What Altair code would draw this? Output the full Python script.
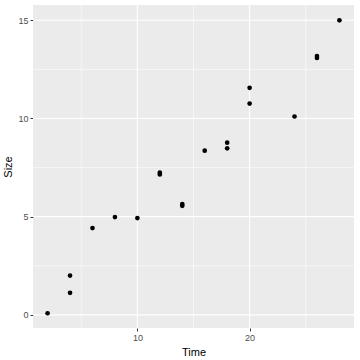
import altair as alt
import pandas as pd

time = [2, 4, 4, 6, 8, 10, 12, 12, 14, 14, 16, 18, 18, 20, 20, 24, 26, 26, 28]
size = [0.08, 1.12, 2.0, 4.42, 4.98, 4.93, 7.24, 7.15, 5.64, 5.55, 8.36, 8.77, 8.48,
        11.56, 10.76, 10.1, 13.18, 13.08, 15.0]

x_major = [10, 20]
y_major = [0, 5, 10, 15]
x_minor = [5, 15, 25]
y_minor = [2.5, 7.5, 12.5]

df = pd.DataFrame({"Time": time, "Size": size})

xdom = [0.7, 29.3]
ydom = [-0.67, 15.78]
xs = alt.Scale(domain=xdom, nice=False, zero=False)
ys = alt.Scale(domain=ydom, nice=False, zero=False)

font = "Liberation Sans"

xaxis = alt.Axis(
    values=x_major, grid=False, domain=False, tickColor="#333333", tickSize=3,
    tickWidth=1, labelColor="#4D4D4D", labelFontSize=9, labelFont=font,
    labelPadding=2, title="Time", titleFont=font, titleFontSize=11,
    titleFontWeight="normal", titleColor="black", titlePadding=4)
yaxis = alt.Axis(
    values=y_major, grid=False, domain=False, tickColor="#333333", tickSize=3,
    tickWidth=1, labelColor="#4D4D4D", labelFontSize=9, labelFont=font,
    labelPadding=2, title="Size", titleFont=font, titleFontSize=11,
    titleFontWeight="normal", titleColor="black", titlePadding=4)

minx = alt.Chart(pd.DataFrame({"Time": x_minor})).mark_rule(color="white", strokeWidth=0.55).encode(
    x=alt.X("Time:Q", scale=xs, axis=xaxis)
)
miny = alt.Chart(pd.DataFrame({"Size": y_minor})).mark_rule(color="white", strokeWidth=0.55).encode(
    y=alt.Y("Size:Q", scale=ys, axis=yaxis)
)
majx = alt.Chart(pd.DataFrame({"Time": x_major})).mark_rule(color="white", strokeWidth=1.1).encode(
    x=alt.X("Time:Q", scale=xs, axis=xaxis)
)
majy = alt.Chart(pd.DataFrame({"Size": y_major})).mark_rule(color="white", strokeWidth=1.1).encode(
    y=alt.Y("Size:Q", scale=ys, axis=yaxis)
)

pts = alt.Chart(df).mark_circle(color="black", opacity=1, size=22).encode(
    x=alt.X("Time:Q", scale=xs, axis=xaxis),
    y=alt.Y("Size:Q", scale=ys, axis=yaxis),
)

chart = alt.layer(minx, miny, majx, majy, pts).properties(
    width=321, height=323,
    autosize=alt.AutoSizeParams(type="none"),
    padding={"left": 33, "top": 5, "right": 6, "bottom": 32},
    background="white",
).configure_view(stroke=None, fill="#EBEBEB")

chart.save("out.html", embed_options={"renderer": "svg", "actions": False})
